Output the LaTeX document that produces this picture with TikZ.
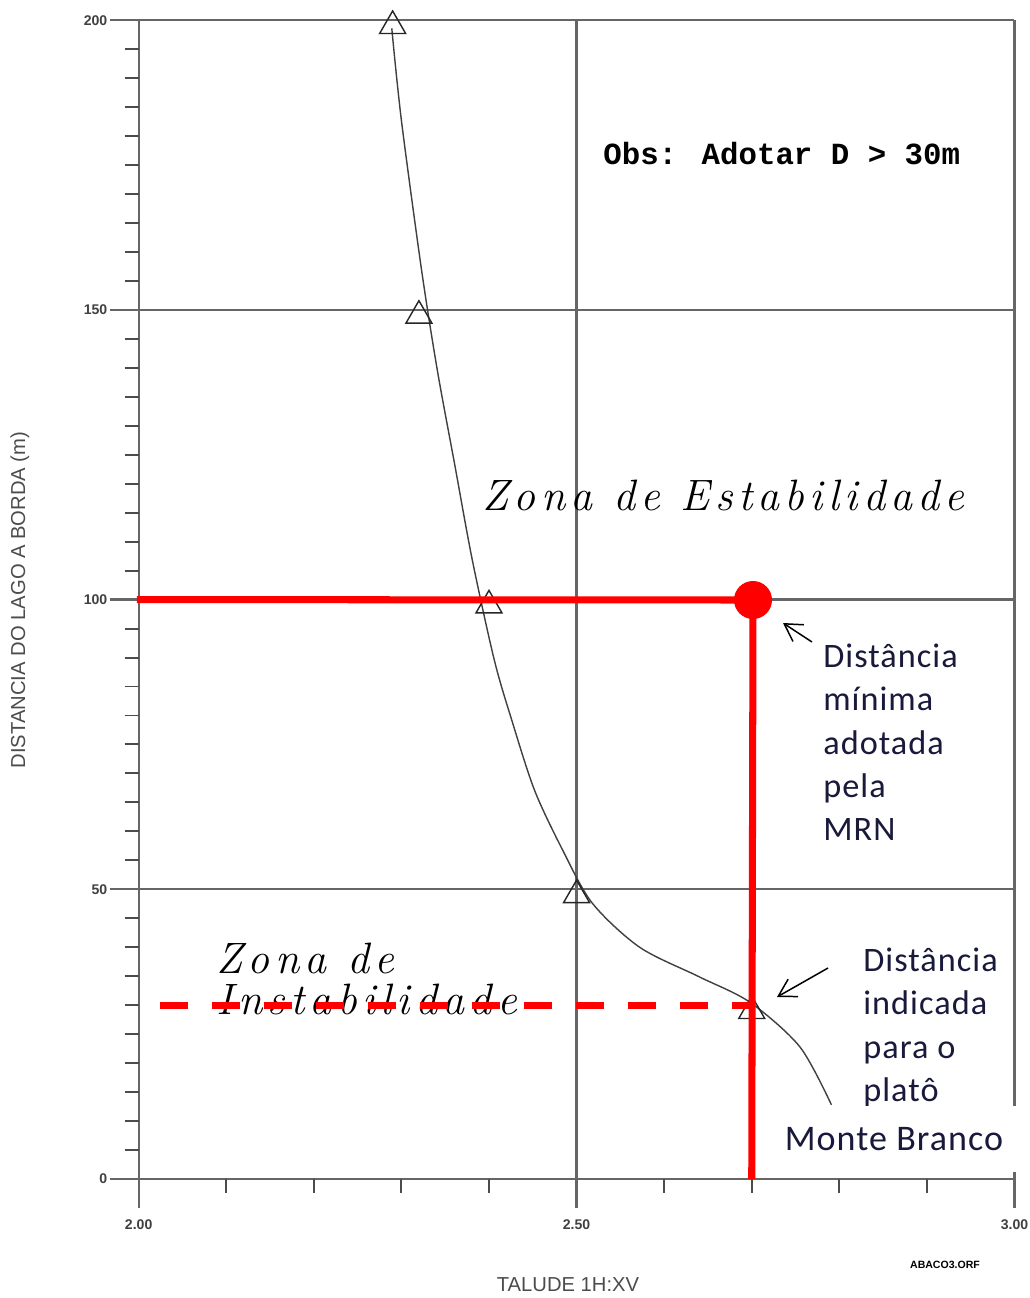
\documentclass[tikz,border=0pt]{standalone}
\usepackage{fontspec}
\setmainfont{Latin Modern Roman}
\newfontfamily\axisfont{Liberation Sans}
\newfontfamily\obsfont{Liberation Mono}
\newfontfamily\zonafont[LetterSpace=12]{Latin Modern Roman}
\newfontfamily\notefont[LetterSpace=3]{Carlito}
\usetikzlibrary{shapes.geometric,arrows.meta}
\definecolor{notecol}{RGB}{25,25,60}

\tikzset{
  gridline/.style={line width=1.3pt, black!60},
  minortick/.style={line width=1.1pt, black!70},
  curveline/.style={line width=0.8pt, black!75},
  trimark/.style={draw=black!85, line width=0.8pt, regular polygon, regular polygon sides=3,
    minimum size=0.6cm, inner sep=0pt},
  redline/.style={red, line width=4pt},
  reddash/.style={red, line width=4pt, dash pattern=on 0.56cm off 0.48cm},
  reddot/.style={circle, fill=red, minimum size=0.76cm, inner sep=0pt},
  ticklabel/.style={font=\axisfont\bfseries\fontsize{8}{9}\selectfont, text=black!75, inner sep=0pt},
  axistitle/.style={font=\axisfont\fontsize{11.5}{13}\selectfont, text=black!70, inner sep=0pt},
  zona/.style={font=\zonafont\itshape\fontsize{25}{23}\selectfont, align=left, inner sep=0pt},
  note/.style={font=\notefont\fontsize{19.5}{24.5}\selectfont, text=notecol, align=left, inner sep=0pt},
  pointer/.style={line width=0.85pt, -{Straight Barb[length=0.34cm,width=0.4cm]}},
}

\begin{document}
\begin{tikzpicture}[x=0.02cm, y=-0.02cm]
  \fill[white] (0,0) rectangle (1030,1298);
  \useasboundingbox (0,0) rectangle (1030,1298);

  % chart in data units: talude (x) and distance in m (y)
  \begin{scope}[shift={(-1613,1179)}, x=17.52cm, y=0.1159cm]
    % grid and major ticks
    \foreach \d in {0,50,100,150,200}
      \draw[gridline] (1.967,\d) -- (3,\d);
    \foreach \t in {2,2.5,3}
      \draw[gridline] (\t,-5) -- (\t,200);
    % minor ticks
    \foreach \k in {0,50,100,150}
      \foreach \d in {5,10,...,45}
        \draw[minortick] (1.984,\k+\d) -- (2,\k+\d);
    \foreach \t in {2.1,2.2,2.3,2.4,2.6,2.7,2.8,2.9}
      \draw[minortick] (\t,0) -- (\t,-2.4);
    % tick labels
    \foreach \d in {0,50,100,150,200}
      \node[ticklabel, anchor=east] (ylab\d) at ([xshift=-0.62cm]2,\d) {\d};
    \foreach \t/\lab/\n in {2/2.00/a, 2.5/2.50/b, 3/3.00/c}
      \node[ticklabel, anchor=north] (xlab\n) at ([yshift=-0.8cm]\t,0) {\lab};

    % curve
    \draw[curveline] plot[smooth] coordinates {(2.289,198.6) (2.300,182.7) (2.323,156.9)
      (2.341,139.6) (2.361,123.2) (2.381,106.8) (2.406,89.6) (2.426,79.2) (2.452,67.1)
      (2.484,56.8) (2.518,47.6) (2.572,40.0) (2.640,34.9) (2.698,30.5) (2.755,22.8)
      (2.791,12.8)};
    \node[trimark] (pt200) at (2.29,199) {};
    \node[trimark] (pt150) at (2.32,149) {};
    \node[trimark] (pt100) at (2.40,99) {};
    \node[trimark] (pt50) at (2.50,49) {};
    \node[trimark] (pt30) at (2.70,29) {};

    \coordinate (ymin) at (1.998,100);
    \coordinate (xmin) at (2.70,0);
    \coordinate (yplato) at (2.024,30);
    \coordinate (xplato) at (2.70,30);
  \end{scope}

  % texts in the chart
  \node[font=\obsfont\bfseries\fontsize{17.5}{20}\selectfont, anchor=base west, inner sep=0pt]
    (obs) at (603,164) {Obs: Adotar D > 30m};
  \node[zona, anchor=base west] (estab) at (482,510) {Zona de Estabilidade};
  \node[zona, anchor=north west] (instab) at (216,943) {Zona de\\Instabilidade};

  % red markers
  \node[reddot] (dmin) at (753,600) {};
  \draw[redline] (ymin) -- (dmin.center) -- (xmin);
  \draw[reddash] (yplato) -- (xplato);

  % notes
  \node[note, anchor=north west] (mrn) at (823,644)
    {Distância\\mínima\\adotada\\pela\\MRN};
  \node[note, anchor=north west] (plato) at (863,948)
    {Distância\\indicada\\para o\\platô};
  \node[note, fill=white, minimum width=5.36cm, minimum height=1.32cm,
    font=\notefont\fontsize{20.5}{24}\selectfont] (monte) at (894,1139) {Monte Branco};

  \coordinate (tailmin) at (812,642);
  \coordinate (headmin) at (783,623);
  \draw[pointer] (tailmin) -- (headmin);
  \coordinate (tailplato) at (828,968);
  \coordinate (headplato) at (777,997);
  \draw[pointer] (tailplato) -- (headplato);

  % axis titles
  \node[axistitle, rotate=90] (ytitle) at (20,600) {DISTANCIA DO LAGO A BORDA (m)};
  \node[axistitle] (xtitle) at (568,1285) {TALUDE 1H:XV};
  \node[font=\axisfont\bfseries\fontsize{6}{7}\selectfont, inner sep=0pt] (abaco)
    at (945,1265) {ABACO3.ORF};
\end{tikzpicture}
\end{document}
